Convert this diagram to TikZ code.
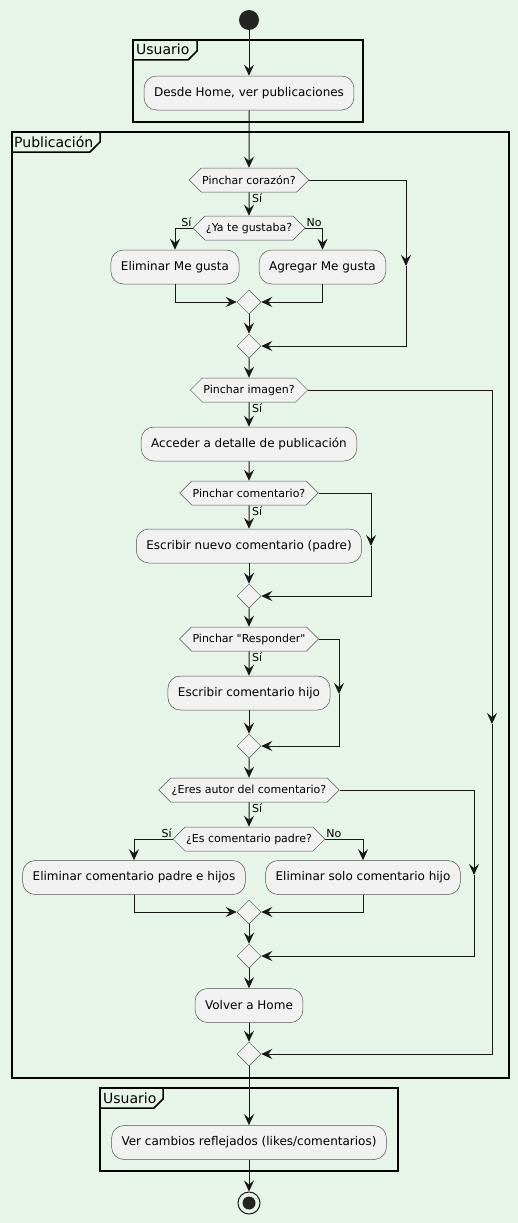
\documentclass[tikz,border=0pt]{standalone}
\usepackage{fontspec}
\setmainfont{DejaVu Sans}[Ligatures=TeXOff]
\usetikzlibrary{shapes.symbols,shapes.geometric,arrows.meta}
\definecolor{bg}{HTML}{E6F5E8}
\definecolor{boxfill}{HTML}{F1F1F1}
\definecolor{ln}{HTML}{181818}
\begin{document}
\begin{tikzpicture}[x=1pt,y=-1pt,
  actbox/.style={draw=ln!75, line width=0.5pt, fill=boxfill, rounded corners=12.5pt, minimum height=34pt, inner xsep=10pt, font=\fontsize{12}{14}\selectfont},
  hexbox/.style={signal, signal to=east and west, draw=ln!75, line width=0.5pt, fill=boxfill, minimum height=24pt, inner xsep=1pt, inner ysep=0pt, font=\fontsize{11}{13}\selectfont},
  mergebox/.style={diamond, draw=ln!75, line width=0.5pt, fill=boxfill, minimum size=24pt, inner sep=0pt},
  flow/.style={draw=ln, line width=1pt, -{Stealth[length=11pt,width=10pt,inset=4pt]}},
  lbl/.style={font=\fontsize{11}{13}\selectfont, inner sep=1pt},
  frame/.style={draw=black, line width=1.5pt},
  ftitle/.style={font=\fontsize{14}{16}\selectfont, inner sep=0pt, anchor=base west},
]
\fill[bg] (0,0) rectangle (518,1223);
\useasboundingbox (0,0) rectangle (518,1223);

% frames
\draw[frame] (133,40) rectangle (363,122);
\draw[frame] (133,60) -- (188,60) -- (197,51) -- (197,40);
\node[ftitle] (t1) at (136,55) {Usuario};

\draw[frame] (12,132) rectangle (509,1078);
\draw[frame] (12,152) -- (90,152) -- (100,142) -- (100,132);
\node[ftitle] (t2) at (14,147) {Publicación};

\draw[frame] (100,1088) rectangle (398,1171);
\draw[frame] (100,1108) -- (154,1108) -- (163,1099) -- (163,1088);
\node[ftitle] (t3) at (103,1103) {Usuario};

% nodes
\node[circle, fill=ln!95, minimum size=20pt, inner sep=0pt] (start) at (249,20) {};
\node[actbox] (a1) at (249,93) {Desde Home, ver publicaciones};
\node[hexbox] (h1) at (249,180) {Pinchar corazón?};
\node[hexbox] (h2) at (249,228) {¿Ya te gustaba?};
\node[actbox] (b1) at (175,267) {Eliminar Me gusta};
\node[actbox] (b2) at (322.5,267) {Agregar Me gusta};
\node[mergebox] (m1) at (249,302) {};
\node[mergebox] (m2) at (249,346) {};
\node[hexbox] (h3) at (249,390) {Pinchar imagen?};
\node[actbox] (a2) at (249,444) {Acceder a detalle de publicación};
\node[hexbox] (h4) at (249,493) {Pinchar comentario?};
\node[actbox] (a3) at (249,546) {Escribir nuevo comentario (padre)};
\node[mergebox] (m3) at (249,596) {};
\node[hexbox] (h5) at (249,639) {Pinchar "Responder"};
\node[actbox] (a4) at (249,693) {Escribir comentario hijo};
\node[mergebox] (m4) at (249,746) {};
\node[hexbox] (h6) at (249,790) {¿Eres autor del comentario?};
\node[hexbox] (h7) at (249,839) {¿Es comentario padre?};
\node[actbox] (b3) at (134,877.5) {Eliminar comentario padre e hijos};
\node[actbox] (b4) at (363,877.5) {Eliminar solo comentario hijo};
\node[mergebox] (m5) at (249,912) {};
\node[mergebox] (m6) at (249,956) {};
\node[actbox] (a5) at (249,1005.5) {Volver a Home};
\node[mergebox] (m7) at (249,1054) {};
\node[actbox] (a6) at (249,1142.5) {Ver cambios reflejados (likes/comentarios)};
\node[circle, draw=ln, line width=1pt, minimum size=22pt, inner sep=0pt] (end) at (249,1203) {};
\node[circle, fill=ln!95, minimum size=13pt, inner sep=0pt] (endin) at (249,1203) {};

% labels
\node[lbl, anchor=north west] (s1) at ([xshift=2pt]h1.south) {Sí};
\node[lbl, anchor=south east] (s2) at (h2.west) {Sí};
\node[lbl, anchor=south west] (n2) at (h2.east) {No};
\node[lbl, anchor=north west] (s3) at ([xshift=2pt]h3.south) {Sí};
\node[lbl, anchor=north west] (s4) at ([xshift=2pt]h4.south) {Sí};
\node[lbl, anchor=north west] (s5) at ([xshift=2pt]h5.south) {Sí};
\node[lbl, anchor=north west] (s6) at ([xshift=2pt]h6.south) {Sí};
\node[lbl, anchor=south east] (s7) at (h7.west) {Sí};
\node[lbl, anchor=south west] (n7) at (h7.east) {No};

% branch coordinates
\coordinate (c1) at (406,266);
\coordinate (c3) at (492,724);
\coordinate (c4) at (371,546);
\coordinate (c5) at (339,694);
\coordinate (c6) at (474,875);

% connectors
\draw[flow] (start) -- (a1);
\draw[flow] (a1) -- (h1);
\draw[flow] (h1) -- (h2);
\draw[flow] (h2.west) -| (b1.north);
\draw[flow] (h2.east) -| (b2.north);
\draw[flow] (b1.south) |- (m1.west);
\draw[flow] (b2.south) |- (m1.east);
\draw[flow] (m1) -- (m2);
\draw[flow] (h1.east) -| (c1);
\draw[flow] (c1) |- (m2.east);
\draw[flow] (m2) -- (h3);
\draw[flow] (h3) -- (a2);
\draw[flow] (a2) -- (h4);
\draw[flow] (h4) -- (a3);
\draw[flow] (a3) -- (m3);
\draw[flow] (h4.east) -| (c4);
\draw[flow] (c4) |- (m3.east);
\draw[flow] (m3) -- (h5);
\draw[flow] (h5) -- (a4);
\draw[flow] (a4) -- (m4);
\draw[flow] (h5.east) -| (c5);
\draw[flow] (c5) |- (m4.east);
\draw[flow] (m4) -- (h6);
\draw[flow] (h6) -- (h7);
\draw[flow] (h7.west) -| (b3.north);
\draw[flow] (h7.east) -| (b4.north);
\draw[flow] (b3.south) |- (m5.west);
\draw[flow] (b4.south) |- (m5.east);
\draw[flow] (m5) -- (m6);
\draw[flow] (h6.east) -| (c6);
\draw[flow] (c6) |- (m6.east);
\draw[flow] (m6) -- (a5);
\draw[flow] (a5) -- (m7);
\draw[flow] (h3.east) -| (c3);
\draw[flow] (c3) |- (m7.east);
\draw[flow] (m7) -- (a6);
\draw[flow] (a6) -- (end);
\end{tikzpicture}
\end{document}
